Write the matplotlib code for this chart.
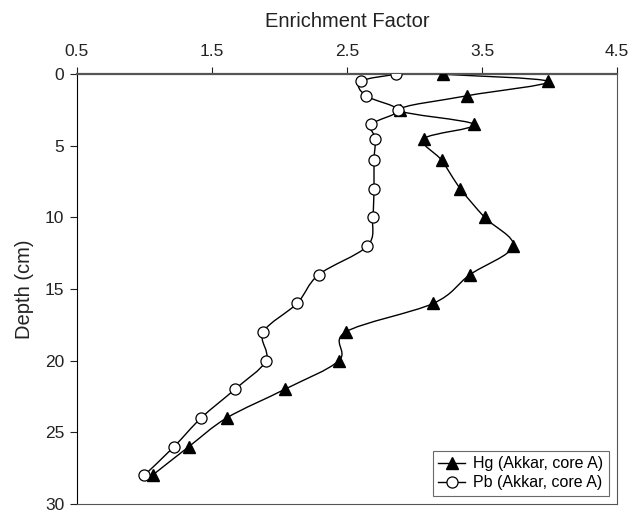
import numpy as np
import matplotlib
matplotlib.use("Agg")
import matplotlib.pyplot as plt
from matplotlib.path import Path
from matplotlib.patches import PathPatch

plt.rcParams['font.family'] = ['Liberation Sans', 'DejaVu Sans']

# Depth (cm) and enrichment factors
depth = [0, 0.5, 1.5, 2.5, 3.5, 4.5, 6, 8, 10, 12, 14, 16, 18, 20, 22, 24, 26, 28]
hg_ef = [3.21, 3.99, 3.39, 2.89, 3.44, 3.07, 3.20, 3.34, 3.52, 3.73,
         3.41, 3.14, 2.49, 2.44, 2.04, 1.61, 1.33, 1.06]
pb_ef = [2.86, 2.60, 2.64, 2.88, 2.68, 2.71, 2.70, 2.70, 2.69, 2.65,
         2.29, 2.13, 1.88, 1.90, 1.67, 1.42, 1.22, 1.00]

x_ticks = [0.5, 1.5, 2.5, 3.5, 4.5]
y_ticks = [0, 5, 10, 15, 20, 25, 30]


def smooth_path(xs, ys):
    """Excel-style smoothed line as a chain of cubic Bezier segments."""
    pts = np.column_stack([xs, ys]).astype(float)
    n = len(pts)
    verts = [pts[0]]
    codes = [Path.MOVETO]
    for i in range(n - 1):
        p0 = pts[i - 1] if i > 0 else pts[i]
        p1 = pts[i]
        p2 = pts[i + 1]
        p3 = pts[i + 2] if i + 2 < n else pts[i + 1]
        c1 = p1 + (p2 - p0) / 6.0
        c2 = p2 - (p3 - p1) / 6.0
        verts += [c1, c2, p2]
        codes += [Path.CURVE4] * 3
    return Path(verts, codes)


fig = plt.figure(figsize=(6.32, 5.13), dpi=100)
ax = fig.add_axes([0.1218, 0.018, 0.8545, 0.8372])

for vals in (hg_ef, pb_ef):
    ax.add_patch(PathPatch(smooth_path(vals, depth), facecolor='none',
                           edgecolor='black', lw=1.0, zorder=2))

# markers (lines in legend handles only)
ax.plot(hg_ef, depth, linestyle='none', marker='^', markersize=8,
        color='black', zorder=3)
ax.plot(pb_ef, depth, linestyle='none', marker='o', markersize=8,
        markerfacecolor='white', markeredgecolor='black', markeredgewidth=0.9,
        zorder=3)
h1, = ax.plot([], [], color='black', lw=1, marker='^', markersize=8,
              label='Hg (Akkar, core A)')
h2, = ax.plot([], [], color='black', lw=1, marker='o', markersize=8,
              markerfacecolor='white', markeredgewidth=0.9,
              label='Pb (Akkar, core A)')

ax.set_xlim(0.5, 4.5)
ax.set_ylim(30, 0)
ax.xaxis.tick_top()
ax.xaxis.set_label_position('top')
ax.set_xticks(x_ticks)
ax.set_xticklabels([str(v) for v in x_ticks])
ax.set_yticks(y_ticks)
ax.tick_params(axis='both', direction='out', length=5, width=0.8,
               labelsize=12.5, colors='#222222', pad=4)
ax.tick_params(axis='x', top=True, bottom=False, pad=6)

ax.set_xlabel('Enrichment Factor', fontsize=14.5, labelpad=12, color='#222222')
ax.set_ylabel('Depth (cm)', fontsize=14.5, labelpad=8, color='#222222')

for side in ('top', 'bottom', 'right'):
    ax.spines[side].set_color('#555555')
ax.spines['top'].set_linewidth(1.6)
ax.spines['left'].set_color('black')

leg = ax.legend(handles=[h1, h2], loc='lower right', fontsize=11.5,
                frameon=True, fancybox=False, edgecolor='#444444',
                borderaxespad=0.5, handlelength=1.7, handletextpad=0.5,
                borderpad=0.35, labelspacing=0.25)
leg.get_frame().set_linewidth(0.8)

fig.savefig('out.png', dpi=100)
